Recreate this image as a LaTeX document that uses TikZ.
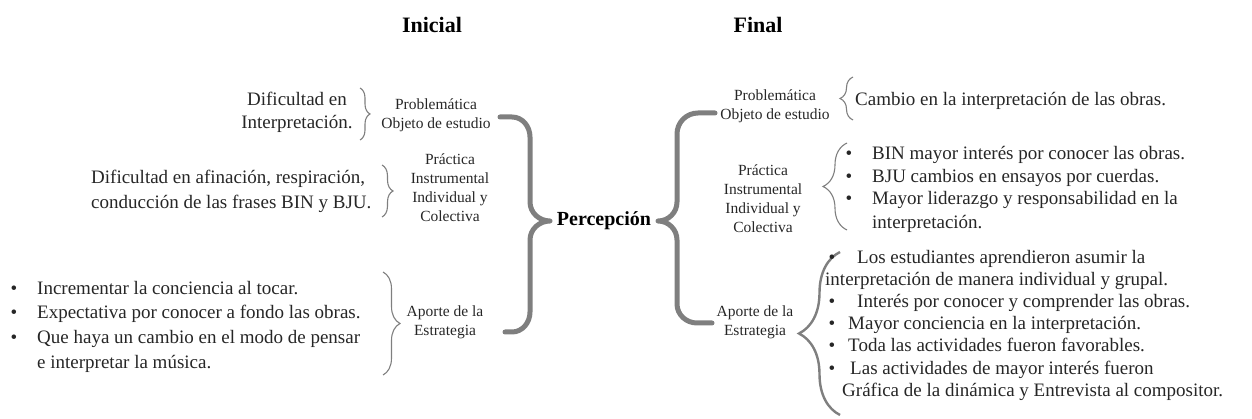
\documentclass[tikz,border=0pt]{standalone}
\usepackage{fontspec}
\setmainfont{Liberation Serif}
\usetikzlibrary{decorations.pathreplacing}

\definecolor{bracegray}{HTML}{7F7F7F}
\definecolor{inkgray}{HTML}{262626}

\tikzset{
  txt/.style={inner sep=0pt, anchor=base west, text=inkgray, font=\fontsize{19}{23}\selectfont},
  dot/.style={inner sep=0pt, anchor=base, text=inkgray, font=\fontsize{19}{23}\selectfont},
  lbl/.style={inner sep=0pt, align=center, text=inkgray, font=\fontsize{15.5}{19}\selectfont},
  title/.style={inner sep=0pt, text=black, font=\fontsize{22}{26}\selectfont\bfseries},
  bigbrace/.style={draw=bracegray, line width=5pt, line cap=round, line join=round},
  thinbrace/.style={draw=bracegray, line width=1.1pt, decorate, decoration={brace, amplitude=#1}},
}

\begin{document}
\begin{tikzpicture}[x=1pt, y=-1pt]
    \useasboundingbox (0,0) rectangle (1252,419);

    % Titles
    \node[title] (inicial) at (432,25) {Inicial};
    \node[title] (final) at (758,25) {Final};
    \node[title, font=\fontsize{20}{24}\selectfont\bfseries] (percep) at (604,221) {Percepción};

    % Left side: Inicial
    \node[txt, anchor=base] (li1) at (297,106) {Dificultad en};
    \node[txt, anchor=base] (li2) at (297,129) {Interpretación.};
    \draw[thinbrace=10pt] (360,88) -- (360,140);
    \node[lbl] (lprob) at (436,115) {Problemática\\Objeto de estudio};

    \node[txt] (lp1) at (91,184) {Dificultad en afinación, respiración,};
    \node[txt] (lp2) at (91,209) {conducción de las frases BIN y BJU.};
    \draw[thinbrace=11pt] (382,165) -- (382,217);
    \node[lbl] (lprac) at (450,188) {Práctica\\Instrumental\\Individual y\\Colectiva};

    \foreach \y/\t [count=\i] in {295/Incrementar la conciencia al tocar.,
                                  319/Expectativa por conocer a fondo las obras.,
                                  343/Que haya un cambio en el modo de pensar} {
        \node[dot] (lb\i) at (14,\y) {•};
        \node[txt] (la\i) at (37,\y) {\t};
    }
    \node[txt] (la4) at (37,368) {e interpretar la música.};
    \draw[thinbrace=17pt] (383,272) -- (383,375);
    \node[lbl] (lapo) at (445,322) {Aporte de la\\Estrategia};

    % Big braces round Percepcion
    \draw[bigbrace] (500,117) -- (512,117) to[out=0,in=90] (530,137) -- (530,202)
        to[out=-90,in=180] (550,221) to[out=180,in=90] (530,240) -- (530,312)
        to[out=-90,in=0] (512,332) -- (505,332);
    \draw[bigbrace] (715,113) -- (698,113) to[out=180,in=90] (677,134) -- (677,202)
        to[out=-90,in=0] (658,221) to[out=0,in=90] (677,240) -- (677,304)
        to[out=-90,in=180] (697,323) -- (712,323);

    % Right side: Final
    \node[lbl] (rprob) at (775,106) {Problemática\\Objeto de estudio};
    \draw[thinbrace=13pt] (853,120) -- (853,77);
    \node[txt] (rc1) at (855,106) {Cambio en la interpretación de las obras.};

    \node[lbl] (rprac) at (763,199) {Práctica\\Instrumental\\Individual y\\Colectiva};
    \draw[thinbrace=24pt] (847,230) -- (847,143);
    \foreach \y/\t [count=\i] in {160/BIN mayor interés por conocer las obras.,
                                  183/BJU cambios en ensayos por cuerdas.,
                                  205/Mayor liderazgo y responsabilidad en la} {
        \node[dot] (rb\i) at (849,\y) {•};
        \node[txt] (rp\i) at (872,\y) {\t};
    }
    \node[txt] (rp4) at (872,229) {interpretación.};

    \node[lbl] (rapo) at (755,322) {Aporte de la\\Estrategia};
    \draw[thinbrace=41pt, line width=2.4pt] (840,415) -- (840,252);
    \foreach \y in {264,308,330,352,374} {
        \node[dot] (rd\y) at (832,\y) {•};
    }
    \node[txt] (ra1) at (857,264) {Los estudiantes aprendieron asumir la};
    \node[txt] (ra2) at (825,286) {interpretación de manera individual y grupal.};
    \node[txt] (ra3) at (857,308) {Interés por conocer y comprender las obras.};
    \node[txt] (ra4) at (848,330) {Mayor conciencia en la interpretación.};
    \node[txt] (ra5) at (848,352) {Toda las actividades fueron favorables.};
    \node[txt] (ra6) at (850,374) {Las actividades de mayor interés fueron};
    \node[txt] (ra7) at (842,396) {Gráfica de la dinámica y Entrevista al compositor.};
\end{tikzpicture}
\end{document}
